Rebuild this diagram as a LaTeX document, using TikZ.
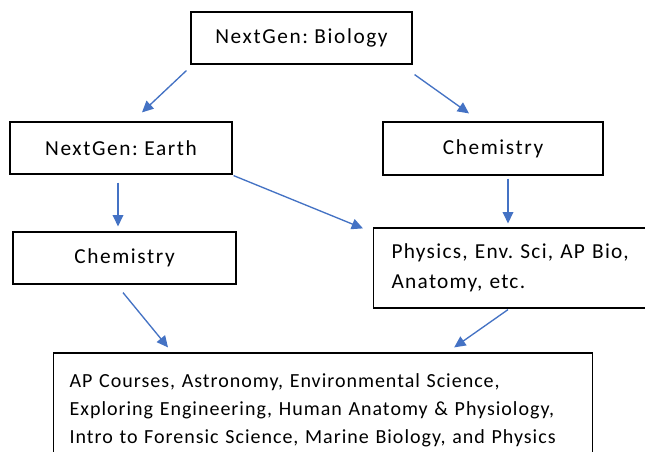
\documentclass[tikz,border=0pt]{standalone}
\usepackage{fontspec}
\setmainfont{Carlito}
\usetikzlibrary{arrows.meta, positioning}
\definecolor{linkblue}{HTML}{4472C4}
\frenchspacing
\tikzset{
  course/.style={rectangle, draw=black, line width=0.9pt, minimum height=39pt, inner sep=0pt, text centered, font=\fontsize{16}{19}\selectfont\addfontfeatures{LetterSpace=7.5}},
  coursegroup/.style={rectangle, draw=black, line width=0.9pt, inner ysep=0pt, align=left, font=\fontsize{16}{22.5}\selectfont\addfontfeatures{LetterSpace=6}},
  arrowline/.style={-{Triangle[length=8.5pt, width=8pt]}, draw=linkblue, line width=1pt},
}
\begin{document}
\begin{tikzpicture}[x=0.75pt, y=-0.75pt]
\useasboundingbox (0,0) rectangle (645,452);
\clip (0,0) rectangle (645,452);
\fill[white] (0,0) rectangle (645,452);

\node[course, minimum width=165.75pt] (bio) at (301.5,38) {NextGen: Biology};
\node[course, minimum width=166.5pt] (earth) at (121,148) {NextGen: Earth};
\node[course, minimum width=165pt, minimum height=39.75pt] (chemR) at (493,148.5) {Chemistry};
\node[course, minimum width=167.25pt] (chemL) at (124.5,258) {Chemistry};
\node[coursegroup, anchor=west, minimum height=60pt, text width=225pt, inner xsep=13.5pt] (phys) at (373,268) {Physics, Env. Sci, AP Bio,\\Anatomy, etc.};
\node[coursegroup, anchor=west, minimum height=85.5pt, text width=380.25pt, inner xsep=12pt, font=\fontsize{15}{21}\selectfont\addfontfeatures{LetterSpace=5}] (allcourses) at (53,410) {AP Courses, Astronomy, Environmental Science,\\Exploring Engineering, Human Anatomy \& Physiology,\\Intro to Forensic Science, Marine Biology, and Physics};

\draw[arrowline] ([shift={(-4,6)}]bio.south west) -- ([shift={(21,-9)}]earth.north);
\draw[arrowline] ([shift={(2,10)}]bio.south east) -- ([shift={(-24,-8)}]chemR.north);
\draw[arrowline] ([shift={(-3,8)}]earth.south) -- ([shift={(-6.5,-5)}]chemL.north);
\draw[arrowline] ([shift={(1,1)}]earth.south east) -- ([shift={(-10,1)}]phys.north west);
\draw[arrowline] ([shift={(15,3)}]chemR.south) -- ([shift={(135,-4)}]phys.north west);
\draw[arrowline] ([shift={(-1.5,8)}]chemL.south) -- ([shift={(115,-5)}]allcourses.north west);
\draw[arrowline] ([shift={(135,1)}]phys.south west) -- ([shift={(-139,-5)}]allcourses.north east);
\end{tikzpicture}
\end{document}
